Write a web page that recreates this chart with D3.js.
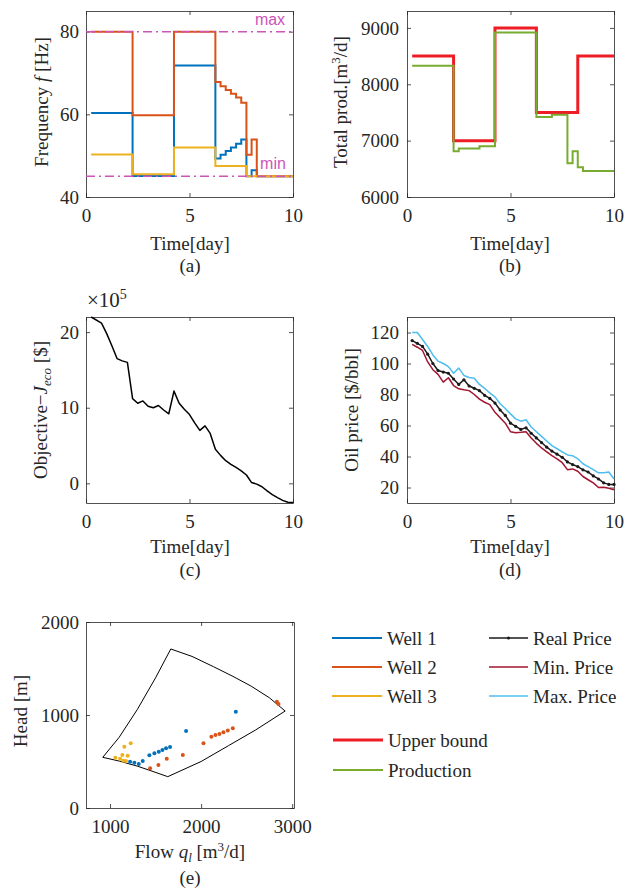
<!DOCTYPE html>
<html>
<head>
<meta charset="utf-8">
<script src="https://cdn.jsdelivr.net/npm/d3@7"></script>
<style>
body { margin: 0; background: #fff; }
svg { display: block; font-family: "Liberation Serif", serif; }
.axis text { font-size: 19px; fill: #262626; font-family: "Liberation Serif", serif; }
.axis path, .axis line { stroke: #262626; stroke-width: 0.8; }
.lbl { font-size: 19px; fill: #262626; font-family: "Liberation Serif", serif; }
</style>
</head>
<body>
<svg id="fig" width="632" height="891"></svg>
<script>
// (a) frequencies [Hz], step change times [day]
const tW1 = [0.25, 2.25, 4.25, 6.25, 6.5, 6.75, 7.0, 7.25, 7.5, 7.75, 8.0, 8.25, 10];
const freqW1 = [60.3, 45.1, 71.8, 49.3, 50.2, 51.1, 52.0, 52.9, 53.9, 45.0, 46.5, 45.0, 45.0];
const tW2 = [0.25, 2.25, 4.25, 6.25, 6.5, 6.75, 7.0, 7.25, 7.5, 7.75, 8.0, 8.25, 10];
const freqW2 = [80, 59.8, 80, 67.8, 66.8, 65.9, 65.0, 64.1, 62.8, 50.2, 53.9, 45.0, 45.0];
const tW3 = [0.25, 2.25, 4.25, 6.25, 7.75, 10];
const freqW3 = [50.3, 45.5, 52.0, 47.5, 45.0, 45.0];
const freqMax = 80, freqMin = 45;

// (b) total production [m3/d]
const tUpper = [0.25, 2.25, 4.25, 6.25, 8.25, 10];
const upperBound = [8500, 7000, 9000, 7500, 8500, 8500];
const tProd = [0.25, 2.25, 2.5, 3.5, 4.25, 6.25, 7.0, 7.75, 8.0, 8.25, 8.5, 10];
const production = [8330, 6810, 6860, 6900, 8920, 7420, 7460, 6600, 6810, 6530, 6460, 6460];

// (c) objective [x1e5 $]
const tObj = [0.25, 0.75, 1.0, 1.25, 1.5, 1.75, 2.0, 2.25, 2.5, 2.75, 3.0, 3.25, 3.5, 3.75, 4.0,
  4.25, 4.5, 4.75, 5.0, 5.25, 5.5, 5.75, 6.0, 6.25, 6.5, 6.75, 7.0, 7.25, 7.5, 7.75, 8.0,
  8.25, 8.5, 8.75, 9.0, 9.25, 9.5, 9.75, 10];
const objective = [22.0, 21.2, 19.8, 18.2, 16.5, 16.2, 16.0, 11.2, 10.6, 10.9, 10.2, 10.0, 10.3, 9.7, 9.2,
  12.2, 10.6, 9.8, 9.1, 8.0, 7.0, 7.6, 6.6, 4.5, 3.7, 3.0, 2.5, 2.1, 1.65, 1.1, 0.1,
  -0.1, -0.45, -1.0, -1.5, -1.9, -2.25, -2.5, -2.55];

// (d) oil price [$/bbl]
const tPrice = [0.25, 0.5, 0.75, 1.0, 1.25, 1.5, 1.75, 2.0, 2.25, 2.5, 2.75, 3.0, 3.25, 3.5, 3.75, 4.0,
  4.25, 4.5, 4.75, 5.0, 5.25, 5.5, 5.75, 6.0, 6.25, 6.5, 6.75, 7.0, 7.25, 7.5, 7.75, 8.0,
  8.25, 8.5, 8.75, 9.0, 9.25, 9.5, 9.75, 10];
const realPrice = [114.8, 113, 111, 106, 100, 95.5, 94.5, 93.7, 90, 86.5, 89.5, 85.5, 84, 82.5, 79.5, 77.5,
  74.5, 70, 66.5, 61.5, 59.5, 57.5, 58.5, 55, 52, 49, 46, 43.5, 41.5, 39.5, 36.5, 34.8,
  33.5, 31.4, 30, 27.5, 25.5, 23, 22, 22];
const minPrice = [112.3, 110.5, 108.4, 101, 96, 93, 88, 90.8, 85.8, 83.7, 83, 82.5, 80, 77, 75, 73.5,
  68.5, 65, 61.5, 56, 55.3, 55.6, 56, 52, 48.5, 45.5, 43, 40.5, 38.5, 36, 31.5, 32,
  30.5, 27.1, 25, 23, 20, 20.2, 19.5, 18.5];
const maxPrice = [120, 120, 115.5, 111, 105.5, 101.5, 100, 98, 93.7, 97, 92.3, 91, 90.5, 86.5, 84, 81,
  78.5, 74, 71, 67.5, 64.3, 62.8, 63.7, 59, 56, 53, 50, 47, 45, 43, 41, 40.5,
  38.5, 35.3, 33.5, 31.5, 29.5, 29.5, 30, 25.5];

// (e) operating envelope and operating points, flow [m3/d] vs head [m]
const envFlow = [920, 1100, 1300, 1500, 1667, 1900, 2135, 2350, 2550, 2750, 2923, 2600, 2300, 2000, 1634, 1450, 1300, 1100, 920];
const envHead = [545, 760, 1060, 1400, 1710, 1630, 1520, 1415, 1310, 1185, 1043, 840, 670, 500, 337, 400, 450, 505, 545];
const flowW1 = [2381, 1835, 1659, 1615, 1575, 1535, 1487, 1432, 1359, 1315, 1267, 1220];
const headW1 = [1036, 828, 656, 642, 624, 606, 588, 566, 505, 473, 487, 498];
const flowW2 = [2832, 2850, 2348, 2293, 2245, 2201, 2157, 2113, 2026, 1799, 1623, 1531, 1440];
const headW2 = [1143, 1118, 857, 832, 814, 796, 785, 767, 695, 570, 530, 462, 427];
const flowW3 = [1227, 1157, 1135, 1194, 1058, 1110, 1146, 1175];
const headW3 = [695, 659, 570, 562, 541, 530, 509, 505];

const C1 = '#0072BD', C2 = '#D95319', C3 = '#EDB120';
const CUB = '#EE1C25', CPR = '#77AC30';
const CREAL = '#1a1a1a', CMIN = '#A2142F', CMAX = '#4DBEEE';
const CMAG = '#CC55B8';

const svg = d3.select('#fig');
const fmt = d3.format('d');

// axes box with inward ticks on all four sides
function panel(box, xDom, yDom, xTicks, yTicks, yPad) {
  const x = d3.scaleLinear(xDom, [box.x0, box.x1]);
  const y = d3.scaleLinear(yDom, [box.y1, box.y0]);
  const g = svg.append('g');
  g.append('g').attr('class', 'axis').attr('transform', `translate(0,${box.y1})`)
    .call(d3.axisBottom(x).tickValues(xTicks).tickFormat(fmt).tickSizeInner(-4).tickSizeOuter(0).tickPadding(12));
  g.append('g').attr('class', 'axis').attr('transform', `translate(0,${box.y0})`)
    .call(d3.axisTop(x).tickValues(xTicks).tickSizeInner(-4).tickSizeOuter(0).tickFormat(''));
  g.append('g').attr('class', 'axis').attr('transform', `translate(${box.x0},0)`)
    .call(d3.axisLeft(y).tickValues(yTicks).tickFormat(fmt).tickSizeInner(-4).tickSizeOuter(0).tickPadding(yPad));
  g.append('g').attr('class', 'axis').attr('transform', `translate(${box.x1},0)`)
    .call(d3.axisRight(y).tickValues(yTicks).tickSizeInner(-4).tickSizeOuter(0).tickFormat(''));
  g.selectAll('.axis').attr('font-family', null).attr('font-size', null);
  g.selectAll('.axis .domain').attr('fill', 'none');
  const plot = g.append('g');
  return {g, plot, x, y};
}

function stepLine(p, ts, vs, color, width) {
  const line = d3.line().x(d => p.x(d[0])).y(d => p.y(d[1])).curve(d3.curveStepAfter);
  p.plot.append('path').datum(ts.map((t, i) => [t, vs[i]]))
    .attr('d', line).attr('fill', 'none').attr('stroke', color)
    .attr('stroke-width', width).attr('stroke-linejoin', 'miter');
}

function polyLine(p, xs, ys, color, width) {
  const line = d3.line().x(d => p.x(d[0])).y(d => p.y(d[1]));
  p.plot.append('path').datum(xs.map((t, i) => [t, ys[i]]))
    .attr('d', line).attr('fill', 'none').attr('stroke', color)
    .attr('stroke-width', width).attr('stroke-linejoin', 'round');
}

function label(x, y, rot, parts) {
  const t = svg.append('text').attr('class', 'lbl').attr('text-anchor', 'middle')
    .attr('transform', `translate(${x},${y}) rotate(${rot})`).attr('dy', '0.35em');
  parts.forEach(pt => {
    const s = t.append('tspan').text(pt.t);
    if (pt.i) s.attr('font-style', 'italic');
    if (pt.sup) s.attr('dy', -7).attr('font-size', '13px');
    if (pt.sub) s.attr('dy', 4).attr('font-size', '13px');
    if (pt.back) s.attr('dy', pt.back);
  });
  return t;
}

const L = {x0: 86, x1: 293}, R = {x0: 407, x1: 614};

// ---- (a) frequency
const pa = panel({...L, y0: 11, y1: 197}, [0, 10], [40, 85], [0, 5, 10], [40, 60, 80], 7);
stepLine(pa, tW1, freqW1, C1, 2);
stepLine(pa, tW2, freqW2, C2, 2);
stepLine(pa, tW3, freqW3, C3, 2);
[freqMax, freqMin].forEach(v => {
  pa.plot.append('line').attr('x1', pa.x(0)).attr('x2', pa.x(10))
    .attr('y1', pa.y(v)).attr('y2', pa.y(v))
    .attr('stroke', CMAG).attr('stroke-width', 1.5).attr('stroke-dasharray', '9,4,2,4');
});
pa.plot.append('text').attr('x', 270).attr('y', pa.y(freqMax) - 7).attr('text-anchor', 'middle')
  .attr('font-family', '"Liberation Sans", Arial, sans-serif').attr('font-size', 16).attr('fill', CMAG).text('max');
pa.plot.append('text').attr('x', 273).attr('y', pa.y(freqMin) - 7).attr('text-anchor', 'middle')
  .attr('font-family', '"Liberation Sans", Arial, sans-serif').attr('font-size', 16).attr('fill', CMAG).text('min');
label(41, 102, -90, [{t: 'Frequency '}, {t: 'f', i: true}, {t: ' [Hz]'}]);
label(190, 243, 0, [{t: 'Time[day]'}]);
label(190, 265, 0, [{t: '(a)'}]);

// ---- (b) total production
const pb = panel({...R, y0: 11, y1: 197}, [0, 10], [6000, 9300], [0, 5, 10], [6000, 7000, 8000, 9000], 8);
stepLine(pb, tUpper, upperBound, CUB, 3);
stepLine(pb, tProd, production, CPR, 2);
label(340, 102, -90, [{t: 'Total prod.[m'}, {t: '3', sup: true}, {t: '/d]', back: 7}]);
label(510, 243, 0, [{t: 'Time[day]'}]);
label(510, 265, 0, [{t: '(b)'}]);

// ---- (c) objective
const pc = panel({...L, y0: 317, y1: 503}, [0, 10], [-2.6, 22], [0, 5, 10], [0, 10, 20], 7);
polyLine(pc, tObj, objective, '#000', 1.5);
svg.append('text').attr('class', 'lbl').attr('x', 87).attr('y', 307).style('font-size', '21px')
  .call(t => { t.append('tspan').text('×10'); t.append('tspan').attr('dy', -8).attr('font-size', '14px').text('5'); });
label(40, 410, -90, [{t: 'Objective−'}, {t: 'J', i: true}, {t: 'eco', i: true, sub: true}, {t: ' [$]', back: -4}]);
label(190, 546, 0, [{t: 'Time[day]'}]);
label(190, 569, 0, [{t: '(c)'}]);

// ---- (d) oil price
const pd = panel({...R, y0: 317, y1: 503}, [0, 10], [10, 130], [0, 5, 10], [20, 40, 60, 80, 100, 120], 8);
polyLine(pd, tPrice, minPrice, CMIN, 1.5);
polyLine(pd, tPrice, maxPrice, CMAX, 1.5);
polyLine(pd, tPrice, realPrice, CREAL, 1.5);
pd.plot.selectAll('circle.rp').data(tPrice).enter().append('circle').attr('class', 'rp')
  .attr('cx', d => pd.x(d)).attr('cy', (d, i) => pd.y(realPrice[i])).attr('r', 1.6).attr('fill', CREAL);
label(351, 410, -90, [{t: 'Oil price [$/bbl]'}]);
label(510, 546, 0, [{t: 'Time[day]'}]);
label(510, 569, 0, [{t: '(d)'}]);

// ---- (e) head vs flow
const pe = panel({...L, x1: 294, y0: 622, y1: 808}, [736, 3020], [0, 2000], [1000, 2000, 3000], [0, 1000, 2000], 7);
polyLine(pe, envFlow, envHead, '#000', 1);
[[flowW1, headW1, C1], [flowW2, headW2, C2], [flowW3, headW3, C3]].forEach(([fx, hy, c]) => {
  pe.plot.selectAll(null).data(fx).enter().append('circle')
    .attr('cx', d => pe.x(d)).attr('cy', (d, i) => pe.y(hy[i])).attr('r', 2).attr('fill', c);
});
label(20, 711, -90, [{t: 'Head [m]'}]);
label(190, 851, 0, [{t: 'Flow '}, {t: 'q', i: true}, {t: 'l', i: true, sub: true}, {t: ' [m', back: -4}, {t: '3', sup: true}, {t: '/d]', back: 7}]);
label(190, 877, 0, [{t: '(e)'}]);

// ---- legends
const legA = [['Well 1', C1, 2], ['Well 2', C2, 2], ['Well 3', C3, 2]];
const legB = [['Real Price', CREAL, 1.5], ['Min. Price', CMIN, 1.5], ['Max. Price', CMAX, 1.5]];
const legC = [['Upper bound', CUB, 3], ['Production', CPR, 2]];
function legend(items, x0, x1, y0, dy, dot) {
  const g = svg.append('g');
  items.forEach((it, i) => {
    const y = y0 + i * dy;
    g.append('line').attr('x1', x0).attr('x2', x1).attr('y1', y).attr('y2', y)
      .attr('stroke', it[1]).attr('stroke-width', it[2]);
    if (dot && i === 0) g.append('circle').attr('cx', (x0 + x1) / 2).attr('cy', y).attr('r', 1.6).attr('fill', it[1]);
    g.append('text').attr('class', 'lbl').attr('x', x1 + 5).attr('y', y).attr('dy', '0.35em').text(it[0]);
  });
}
legend(legA, 332, 382, 638, 29, false);
legend(legB, 489, 528, 638, 29, true);
legend(legC, 333, 383, 740, 30, false);
</script>
</body>
</html>
